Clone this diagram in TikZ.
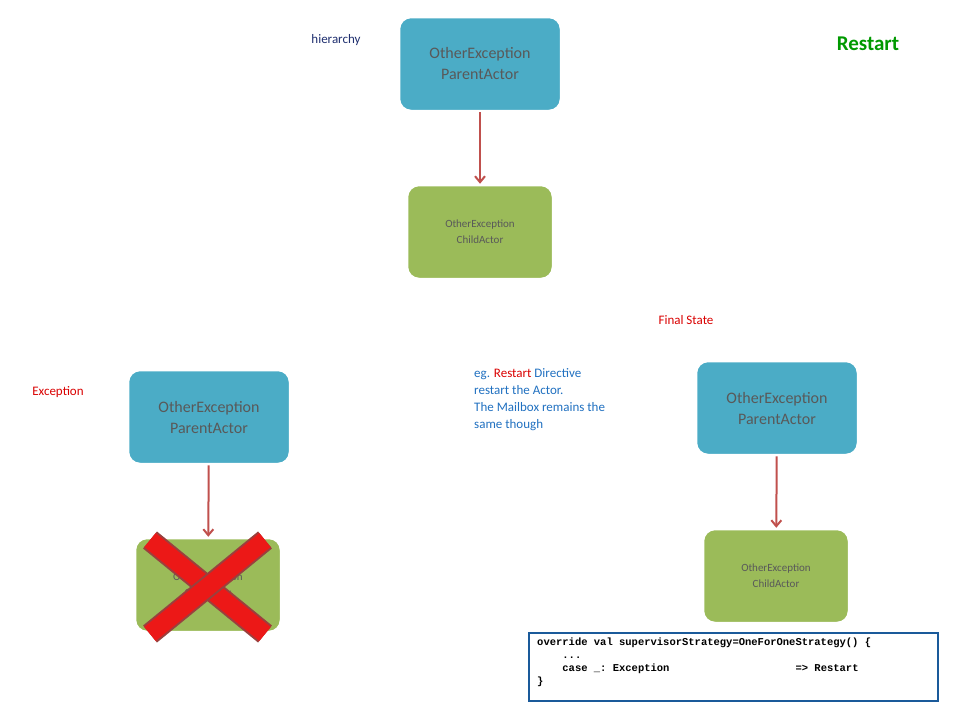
\documentclass[tikz,border=0pt]{standalone}
\usepackage{fontspec}
\setmainfont{Carlito}
\setmonofont{Liberation Mono}
\usetikzlibrary{arrows.meta}
\definecolor{pblue}{HTML}{4BACC6}
\definecolor{cgreen}{HTML}{9BBB59}
\definecolor{arr}{HTML}{C0504D}
\definecolor{txt}{HTML}{595959}
\definecolor{navy}{HTML}{1F2F6F}
\definecolor{eblue}{HTML}{2070C0}
\begin{document}
\begin{tikzpicture}[x=1pt,y=-1pt,
  parent/.style={draw=white,line width=2.5pt,fill=pblue,rounded corners=12pt,minimum width=162pt,minimum height=94pt,align=center,text=txt,font=\fontsize{16}{21}\selectfont,drop shadow/.try},
  child/.style={draw=white,line width=2.5pt,fill=cgreen,rounded corners=12pt,minimum width=146pt,minimum height=94pt,align=center,text=txt,font=\fontsize{11}{16}\selectfont},
  link/.style={draw=arr,line width=2pt,-{Straight Barb[length=6pt,width=10pt]}},
  lbl/.style={font=\fontsize{13}{17}\selectfont}]
\useasboundingbox (0,0) rectangle (960,720);
\node[parent] (p1) at (480,64) {OtherException\\ParentActor};
\node[child] (c1) at (480,232) {OtherException\\ChildActor};
\node[parent] (p2) at (209,417) {OtherException\\ParentActor};
\node[child] (c2) at (208,585) {OtherException\\ChildActor};
\node[parent] (p3) at (777,408) {OtherException\\ParentActor};
\node[child] (c3) at (776,576) {OtherException\\ChildActor};
\draw[link] (p1) -- (c1);
\draw[link] (p2) -- (c2);
\draw[link] (p3) -- (c3);
\draw[line width=22pt,draw=arr!80!black] (150,540) -- (265,634);
\draw[line width=18pt,draw=red!70!arr] (150,540) -- (265,634);
\draw[line width=22pt,draw=arr!80!black] (265,540) -- (150,634);
\draw[line width=18pt,draw=red!70!arr] (265,540) -- (150,634);
\node[lbl,text=navy] (h) at (336,40) {hierarchy};
\node[text=green!60!black,font=\bfseries\fontsize{21}{25}\selectfont] (r) at (868,44) {Restart};
\node[lbl,text=red!85!black] (f) at (686,320) {Final State};
\node[lbl,text=red!85!black] (e) at (58,392) {Exception};
\node[lbl,text=eblue,align=left,anchor=north west,inner sep=0pt] (eg) at (474,368)
  {eg. \textcolor{red!85!black}{Restart} Directive\\restart the Actor.\\The Mailbox remains the\\same though};
\node[draw=eblue!80!black,line width=2pt,minimum width=409pt,minimum height=68pt,anchor=north west,inner sep=0pt] (code) at (528,632) {};
\node[anchor=north west,align=left,inner sep=0pt,font=\ttfamily\bfseries\fontsize{10.5}{13}\selectfont] (ct) at (537,638)
  {override val supervisorStrategy=OneForOneStrategy() \{\\
\ \ \ \ ...\\
\ \ \ \ case \_: Exception\ \ \ \ \ \ \ \ \ \ \ \ \ \ \ \ \ \ \ \ => Restart\\
\}};
\end{tikzpicture}
\end{document}
